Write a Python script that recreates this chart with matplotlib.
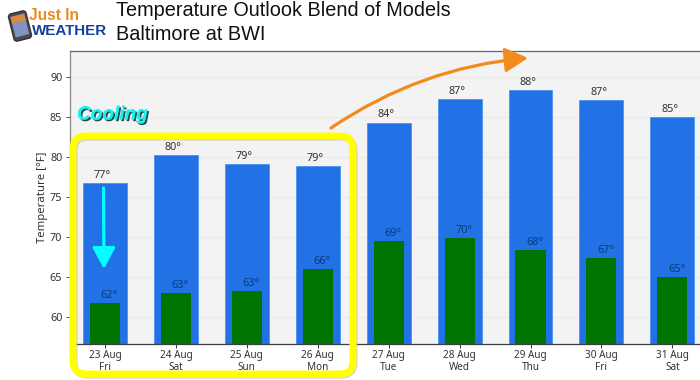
import matplotlib
matplotlib.use("Agg")
import matplotlib.pyplot as plt
from matplotlib.patches import FancyBboxPatch, FancyArrowPatch, Rectangle
from matplotlib.transforms import Affine2D
import matplotlib.patheffects as pe

dates = ["23 Aug", "24 Aug", "25 Aug", "26 Aug", "27 Aug", "28 Aug", "29 Aug", "30 Aug", "31 Aug"]
days = ["Fri", "Sat", "Sun", "Mon", "Tue", "Wed", "Thu", "Fri", "Sat"]
highs = [76.8, 80.2, 79.1, 78.9, 84.3, 87.2, 88.4, 87.1, 85.0]
lows = [61.7, 63.0, 63.3, 66.0, 69.5, 69.9, 68.4, 67.4, 65.0]
high_labels = ["77°", "80°", "79°", "79°", "84°", "87°", "88°", "87°", "85°"]
low_labels = ["62°", "63°", "63°", "66°", "69°", "70°", "68°", "67°", "65°"]
yticks = [60, 65, 70, 75, 80, 85, 90]

UI = ["Noto Sans", "DejaVu Sans"]
W, H = 700, 380
fig = plt.figure(figsize=(7, 3.8), dpi=100, facecolor="white")
ax = fig.add_axes([70 / W, 1 - 343.5 / H, 630 / W, 293 / H], facecolor="#F4F3F4")

x = list(range(len(dates)))
ax.bar(x, highs, width=0.62, color="#2272E6", edgecolor="#3F8CF0", linewidth=0.5, zorder=2)
ax.bar(x, lows, width=0.425, color="#007400", zorder=3)
ax.set_xlim(-0.494, 8.39)
ax.set_ylim(56.7, 93.3)
ax.set_yticks(yticks)
ax.set_xticks(x)
ax.set_xticklabels([f"{d}\n{n}" for d, n in zip(dates, days)], family=UI, fontsize=7.2, color="#333333", linespacing=1.05)
ax.tick_params(axis="y", labelsize=7.8, length=3, width=0.7, color="#555555", labelcolor="#333333", pad=2.5)
ax.tick_params(axis="x", length=3, width=0.7, color="#333333", pad=2)
for t in ax.get_yticklabels():
    t.set_family(UI)
ax.set_ylabel("Temperature [°F]", family=UI, fontsize=8.2, color="#333333", labelpad=1.5)
ax.grid(axis="y", color="#EBEAEB", linewidth=0.8, zorder=1)
ax.set_axisbelow(True)
ax.spines["right"].set_visible(False)
ax.spines["top"].set_color("#666666")
ax.spines["left"].set_color("#8A8A8A")
ax.spines["bottom"].set_color("#3A3F44")
for s in ("top", "left", "bottom"):
    ax.spines[s].set_linewidth(0.9)

for i, (h, l, ht, lt) in enumerate(zip(highs, lows, high_labels, low_labels)):
    ax.annotate(ht, (i, h), xytext=(-2, 1.5), textcoords="offset points", ha="center", va="bottom",
                family=UI, fontsize=7.8, color="#333333", zorder=5)
    ax.annotate(lt, (i, l), xytext=(3, 1.5), textcoords="offset points", ha="center", va="bottom",
                family=UI, fontsize=7.8, color="#0B3A78", zorder=5)

# overlay in pixel coordinates for callouts and header
ov = fig.add_axes([0, 0, 1, 1], facecolor="none")
ov.set_xlim(0, W)
ov.set_ylim(H, 0)
ov.axis("off")

# title
ov.text(116, 11, "Temperature Outlook Blend of Models", family="Liberation Sans", fontsize=14.3, color="#111111", va="center")
ov.text(116, 34, "Baltimore at BWI", family="Liberation Sans", fontsize=14.3, color="#111111", va="center")

# logo
rot = Affine2D().rotate_deg_around(20, 26, -14) + ov.transData
ov.add_patch(FancyBboxPatch((11, 12), 18, 28, boxstyle="round,pad=0,rounding_size=3", fc="#4A4A50", ec="#333338", lw=1, transform=rot))
ov.add_patch(Rectangle((13, 15), 14, 21, fc="#7F93C4", ec="none", transform=rot))
ov.add_patch(Rectangle((13, 15), 14, 7, fc="#D98A45", ec="none", transform=rot))
ov.text(29, 16, "Just In", family="Liberation Sans", fontweight="bold", fontsize=11.2, color="#F08A1D", va="center")
ov.text(32, 31, "WEATHER", family="Liberation Sans", fontweight="bold", fontsize=10.9, color="#17409A", va="center")

# yellow highlight box
ov.add_patch(FancyBboxPatch((74.5, 137.5), 280, 238, boxstyle="round,pad=0,rounding_size=13", fc="none", ec="#B5B5A8",
                            lw=4.5, alpha=0.5, zorder=3))
ov.add_patch(FancyBboxPatch((73, 136), 280, 238, boxstyle="round,pad=0,rounding_size=13", fc="none", ec="#FFFF00",
                            lw=5, zorder=4))

# Cooling
ov.text(77, 115, "Cooling", family="Liberation Sans", fontweight="bold", style="italic", fontsize=13.7, color="#19F0F0",
        va="center", zorder=6, path_effects=[pe.withSimplePatchShadow(offset=(1.2, -1.2), shadow_rgbFace="#0A3A3A", alpha=0.9), pe.Normal()])

# cyan arrow
ov.add_patch(FancyArrowPatch((103.5, 188), (104, 269), arrowstyle="-|>,head_length=13,head_width=7", mutation_scale=1,
                             lw=2.3, color="#00FFFF", shrinkA=0, shrinkB=0, zorder=6))
# orange arrow
ov.add_patch(FancyArrowPatch((331, 128), (528, 58), connectionstyle="arc3,rad=-0.13", arrowstyle="-|>,head_length=14,head_width=7.5",
                             mutation_scale=1, lw=2.3, color="#F28A1C", shrinkA=0, shrinkB=0, zorder=6))

fig.savefig("out.png", dpi=100)
